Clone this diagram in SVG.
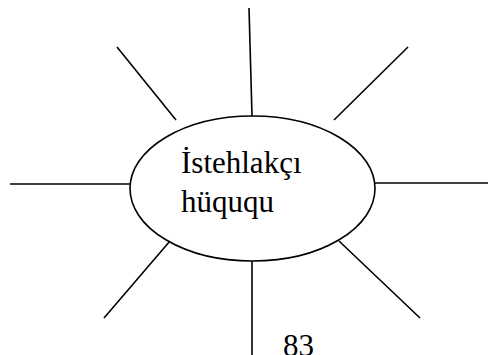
<svg xmlns="http://www.w3.org/2000/svg" width="488" height="355" viewBox="0 0 488 355">
<style>
.ln{stroke:#000;stroke-width:1.6;fill:none}
.t{font-family:"Liberation Serif","Times New Roman",serif;font-size:31px;fill:#000}
</style>
<rect width="488" height="355" fill="#fff"/>
<g id="connectors">
<line class="ln" x1="249" y1="8" x2="252" y2="116"/>
<line class="ln" x1="117" y1="47" x2="176" y2="120"/>
<line class="ln" x1="408" y1="47" x2="334" y2="120"/>
<line class="ln" x1="10" y1="184" x2="130" y2="184"/>
<line class="ln" x1="375" y1="183" x2="488" y2="183"/>
<line class="ln" x1="170" y1="241" x2="104" y2="318"/>
<line class="ln" x1="339" y1="241" x2="420" y2="318"/>
<line class="ln" x1="252" y1="261" x2="252" y2="355"/>
</g>
<g id="center">
<ellipse cx="252.5" cy="188.5" rx="122.5" ry="72.5" fill="#fff" stroke="#000" stroke-width="1.6"/>
<text class="t" x="181" y="173">İstehlakçı</text>
<text class="t" x="181" y="212">hüququ</text>
</g>
<g id="page">
<text class="t" x="283" y="356">83</text>
</g>
</svg>
